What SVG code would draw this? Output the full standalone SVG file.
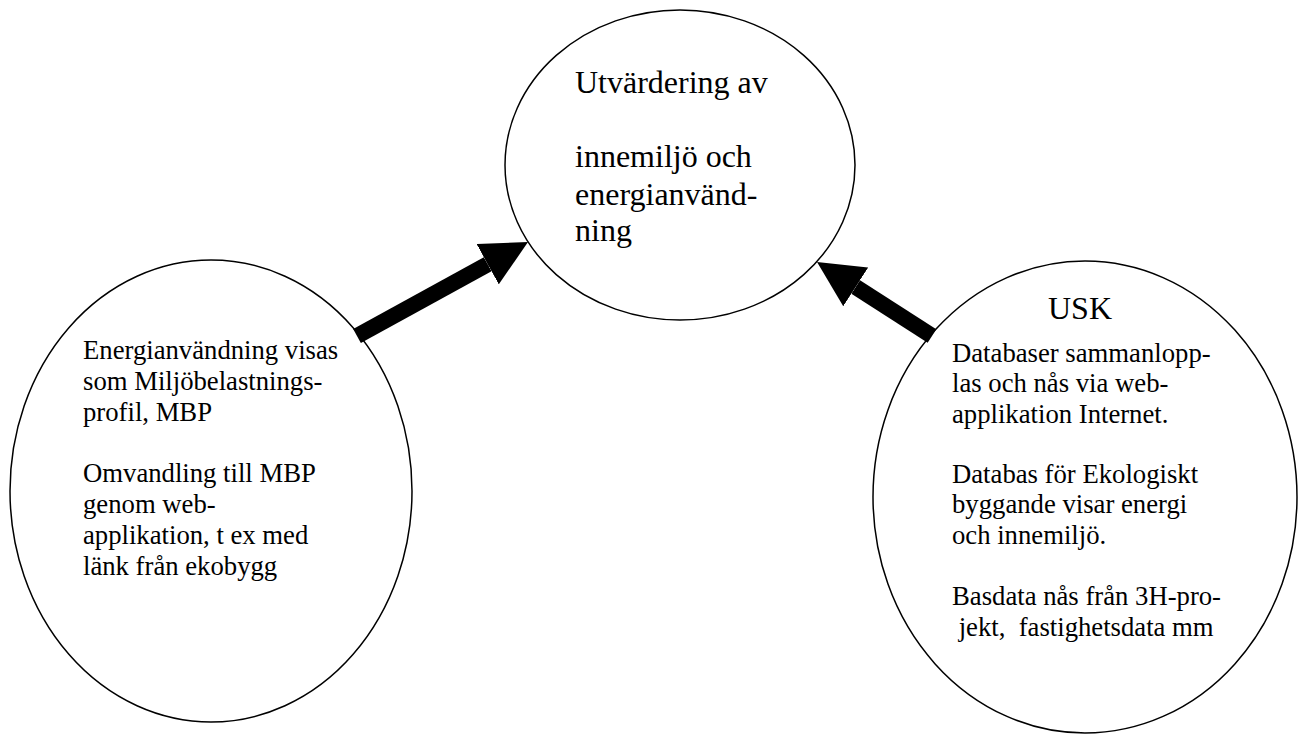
<svg xmlns="http://www.w3.org/2000/svg" width="1300" height="734" viewBox="0 0 1300 734">
<style>
.node{fill:#fff;stroke:#000;stroke-width:1.5}
.t{font-family:"Liberation Serif","Times New Roman",serif;fill:#000}
.big{font-size:32px}
.small{font-size:26.7px}
.conn{stroke:#000;stroke-width:16;stroke-linecap:butt;fill:none}
</style>
<defs>
<marker id="head" viewBox="0 0 46 46" refX="0" refY="23" markerWidth="46" markerHeight="46" markerUnits="userSpaceOnUse" orient="auto">
<path d="M0,0 L46,23 L0,46 Z" fill="#000"/>
</marker>
</defs>
<rect width="1300" height="734" fill="#fff"/>
<g id="node-top">
<ellipse class="node" cx="680" cy="165" rx="175" ry="155"/>
<text class="t big" x="575" y="93">Utvärdering av</text>
<text class="t big" x="575" y="167">innemiljö och</text>
<text class="t big" x="575" y="205">energianvänd-</text>
<text class="t big" x="575" y="241">ning</text>
</g>
<g id="node-left">
<ellipse class="node" cx="211" cy="491" rx="201" ry="231"/>
<text class="t small" x="83" y="359">Energianvändning visas</text>
<text class="t small" x="83" y="390">som Miljöbelastnings-</text>
<text class="t small" x="83" y="421">profil, MBP</text>
<text class="t small" x="83" y="482">Omvandling till MBP</text>
<text class="t small" x="83" y="513">genom web-</text>
<text class="t small" x="83" y="544">applikation, t ex med</text>
<text class="t small" x="83" y="575">länk från ekobygg</text>
</g>
<g id="node-right">
<ellipse class="node" cx="1085" cy="497" rx="212" ry="236"/>
<text class="t big" x="1048" y="319">USK</text>
<text class="t small" x="952" y="362">Databaser sammanlopp-</text>
<text class="t small" x="952" y="392">las och nås via web-</text>
<text class="t small" x="952" y="423">applikation Internet.</text>
<text class="t small" x="952" y="483">Databas för Ekologiskt</text>
<text class="t small" x="952" y="513">byggande visar energi</text>
<text class="t small" x="952" y="544">och innemiljö.</text>
<text class="t small" x="952" y="605">Basdata nås från 3H-pro-</text>
<text class="t small" x="952" y="636" xml:space="preserve"> jekt,  fastighetsdata mm</text>
</g>
<g id="connectors">
<line class="conn" x1="357" y1="336" x2="487.7" y2="264.2" marker-end="url(#head)"/>
<line class="conn" x1="932" y1="336" x2="855.7" y2="286.9" marker-end="url(#head)"/>
</g>
</svg>
